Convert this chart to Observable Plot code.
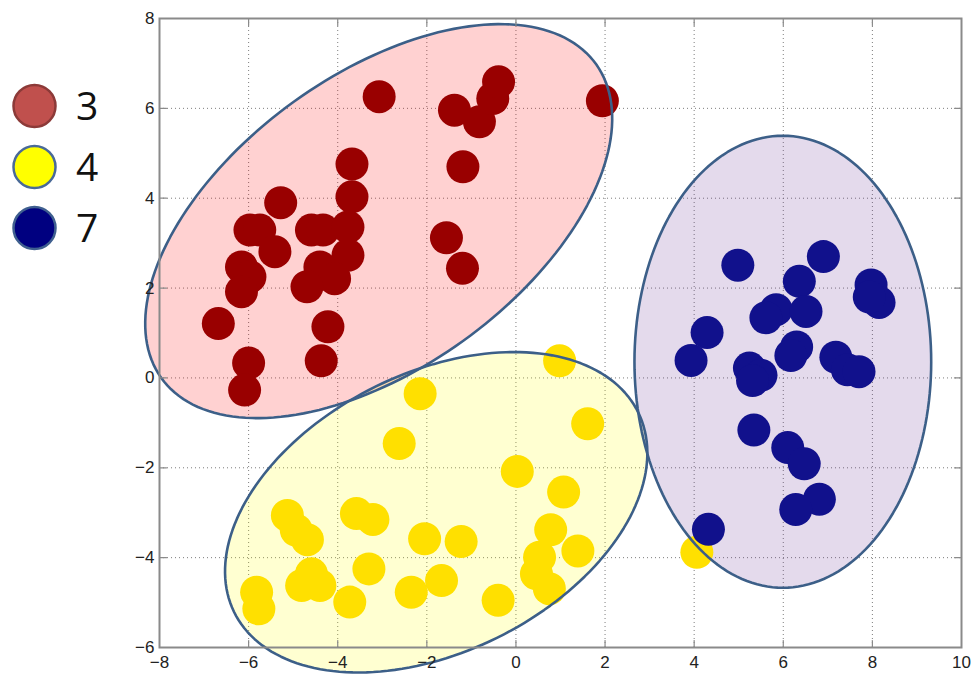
<!DOCTYPE html>
<html>
<head>
<meta charset="utf-8">
<script src="https://cdn.jsdelivr.net/npm/d3@7"></script>
<script src="https://cdn.jsdelivr.net/npm/@observablehq/plot@0.6"></script>
<style>
  html, body { margin: 0; padding: 0; background: #fff; }
  #wrap { position: relative; width: 978px; height: 677px; }
  #legend { position: absolute; left: 0; top: 0; }
  #legend text { font-family: "Open Sans", "Liberation Sans", sans-serif; font-size: 39px; fill: #111; }
</style>
</head>
<body>
<div id="wrap">
  <div id="chart"></div>
  <svg id="legend" width="130" height="260"></svg>
</div>
<script>
// Cluster 3 (dark red)
const redX = [-3.07, -1.38, -0.82, -0.52, -0.39, 1.94, -3.68, -1.19, -3.68, -5.28, -5.97, -5.75, -5.41, -6.16, -5.97, -6.16, -6.68, -6.00, -6.09, -4.59, -4.33, -3.77, -3.77, -4.40, -4.07, -4.69, -4.22, -4.37, -1.56, -1.20];
const redY = [6.26, 5.96, 5.70, 6.22, 6.59, 6.17, 4.76, 4.70, 4.03, 3.90, 3.29, 3.29, 2.81, 2.47, 2.25, 1.92, 1.21, 0.33, -0.27, 3.29, 3.29, 3.36, 2.73, 2.47, 2.21, 2.03, 1.14, 0.38, 3.12, 2.44];

// Cluster 4 (yellow)
const yellowX = [0.98, -2.15, 1.61, -2.62, 0.03, 1.07, -5.13, -3.58, -3.21, -4.93, -4.68, -2.05, -1.23, 0.78, 1.39, 0.53, 0.46, 0.75, -3.30, -1.67, -2.35, -0.40, -3.73, -5.82, -5.77, -4.81, -4.40, -4.59, 4.06];
const yellowY = [0.38, -0.35, -1.02, -1.46, -2.08, -2.54, -3.06, -3.02, -3.15, -3.39, -3.60, -3.58, -3.64, -3.38, -3.85, -3.99, -4.36, -4.69, -4.25, -4.51, -4.77, -4.95, -4.99, -4.77, -5.14, -4.62, -4.62, -4.36, -3.88];

// Cluster 7 (navy)
const blueX = [4.98, 6.90, 6.36, 7.97, 8.15, 7.93, 5.84, 5.61, 6.51, 4.29, 3.93, 6.30, 6.17, 5.24, 5.50, 5.31, 7.18, 7.44, 7.70, 5.34, 6.10, 6.47, 6.81, 6.28, 4.32];
const blueY = [2.51, 2.70, 2.15, 2.07, 1.68, 1.80, 1.52, 1.34, 1.48, 1.01, 0.39, 0.69, 0.50, 0.22, 0.06, -0.06, 0.46, 0.18, 0.14, -1.16, -1.55, -1.91, -2.70, -2.93, -3.37];

// Cluster ellipses: centre, semi-axes and tilt (degrees) in data units
const clusterNames = ["3", "4", "7"];
const ellipseCX = [-3.08, -1.79, 5.99];
const ellipseCY = [3.49, -2.99, 0.36];
const ellipseA = [6.00, 5.05, 3.33];
const ellipseB = [3.27, 3.11, 5.03];
const ellipseDeg = [35.5, 26, 0];

const xTicks = [-8, -6, -4, -2, 0, 2, 4, 6, 8, 10];
const yTicks = [-6, -4, -2, 0, 2, 4, 6, 8];

const pointColors = ["#990000", "#ffe000", "#11118c"];
const ellipseFills = ["rgb(255,0,0)", "rgb(255,255,0)", "rgb(105,50,150)"];
const ellipseStroke = "#3c5f88";
const axisGrey = "#8a8a8a";

const toPoints = (xs, ys) => xs.map((x, i) => ({x, y: ys[i]}));
const clusters = [toPoints(redX, redY), toPoints(yellowX, yellowY), toPoints(blueX, blueY)];

// Outline of one ellipse as a closed ring of points
function ellipseRing(i) {
  const t = ellipseDeg[i] * Math.PI / 180, c = Math.cos(t), s = Math.sin(t);
  return d3.range(0, 360, 2).map(k => {
    const u = k * Math.PI / 180;
    const ex = ellipseA[i] * Math.cos(u), ey = ellipseB[i] * Math.sin(u);
    return {x: ellipseCX[i] + ex * c - ey * s, y: ellipseCY[i] + ex * s + ey * c};
  });
}
const rings = clusterNames.map((_, i) => ellipseRing(i));

// Short straight tick drawn from the frame edge inwards
const tickShape = {draw(context, l) { context.moveTo(0, 0); context.lineTo(0, -l); }};
const inwardTicks = (data, opts) => Plot.vector(data, {length: 7, anchor: "start", shape: tickShape, stroke: axisGrey, strokeWidth: 1.2, ...opts});

const font = {fontFamily: "'Liberation Sans', Arial, sans-serif", fontSize: 17};

const plot = Plot.plot({
  width: 978,
  height: 677,
  marginLeft: 159,
  marginRight: 17,
  marginTop: 18,
  marginBottom: 30,
  x: {domain: [-8, 10], label: null},
  y: {domain: [-6, 8], label: null},
  style: {background: "#fff", color: "#222", fontFamily: "'Liberation Sans', Arial, sans-serif", fontSize: "17px"},
  marks: [
    Plot.gridX(xTicks.slice(1, -1), {stroke: "#6f6f6f", strokeOpacity: 0.9, strokeDasharray: "1,3"}),
    Plot.gridY(yTicks.slice(1, -1), {stroke: "#6f6f6f", strokeOpacity: 0.9, strokeDasharray: "1,3"}),
    ...rings.map((r, i) => Plot.line(r, {x: "x", y: "y", curve: "linear-closed", stroke: "none", fill: ellipseFills[i], fillOpacity: 0.18})),
    ...clusters.map((pts, i) => Plot.dot(pts, {x: "x", y: "y", r: 16.5, fill: pointColors[i], stroke: "none"})),
    ...rings.map(r => Plot.line(r, {x: "x", y: "y", curve: "linear-closed", stroke: ellipseStroke, strokeWidth: 2.6, fill: "none"})),
    inwardTicks(xTicks.slice(1, -1), {x: d => d, y: -6, rotate: 0}),
    inwardTicks(xTicks.slice(1, -1), {x: d => d, y: 8, rotate: 180}),
    inwardTicks(yTicks.slice(1, -1), {x: -8, y: d => d, rotate: 90}),
    inwardTicks(yTicks.slice(1, -1), {x: 10, y: d => d, rotate: -90}),
    Plot.frame({stroke: axisGrey, strokeWidth: 2}),
    Plot.axisX(xTicks, {anchor: "bottom", tickSize: 0, tickPadding: 8, fill: "#222", ...font}),
    Plot.axisY(yTicks, {anchor: "left", tickSize: 0, tickPadding: 5, fill: "#222", ...font})
  ]
});
document.getElementById("chart").appendChild(plot);

// Legend: one swatch per cluster
const legendFills = ["#c0504d", "#ffff00", "#000080"];
const legendStrokes = ["#8c3a38", "#4a6a98", "#3f5f8f"];
const legend = d3.select("#legend");
clusterNames.forEach((name, i) => {
  const cy = 106 + i * 61;
  legend.append("circle").attr("cx", 34.5).attr("cy", cy).attr("r", 21)
    .attr("fill", legendFills[i]).attr("stroke", legendStrokes[i]).attr("stroke-width", 2.5);
  legend.append("text").attr("x", 76).attr("y", cy + 14).text(name);
});
</script>
</body>
</html>
